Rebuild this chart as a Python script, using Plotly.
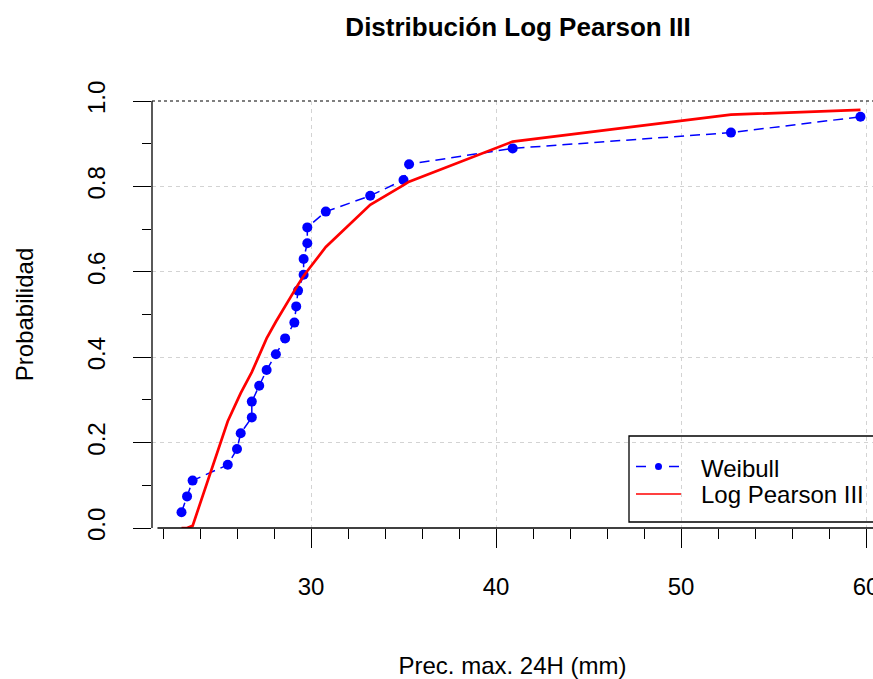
import plotly.graph_objects as go

# Annual maximum 24 h precipitation (mm), sorted ascending
weibull_x = [23.0, 23.3, 23.6, 25.5, 26.0, 26.2, 26.8, 26.8, 27.2, 27.6,
             28.1, 28.6, 29.1, 29.2, 29.3, 29.6, 29.6, 29.8, 29.8, 30.8,
             33.2, 35.0, 35.3, 40.9, 52.7, 59.7]
# Empirical non-exceedance probability (Weibull plotting position)
weibull_p = [0.037, 0.074, 0.111, 0.148, 0.185, 0.222, 0.259, 0.296, 0.333, 0.370,
             0.407, 0.444, 0.481, 0.519, 0.556, 0.593, 0.630, 0.667, 0.704, 0.741,
             0.778, 0.815, 0.852, 0.889, 0.926, 0.963]
# Fitted Log Pearson III CDF evaluated at the same precipitation values
lp3_p = [0.000, 0.000, 0.005, 0.250, 0.297, 0.316, 0.365, 0.365, 0.405, 0.444,
         0.483, 0.520, 0.556, 0.563, 0.570, 0.590, 0.590, 0.602, 0.602, 0.658,
         0.757, 0.803, 0.811, 0.905, 0.968, 0.979]

x_ticks = [30, 40, 50, 60]
y_ticks = [0.0, 0.2, 0.4, 0.6, 0.8, 1.0]
y_tick_text = ["0.0", "0.2", "0.4", "0.6", "0.8", "1.0"]

W, H = 873, 679
L, R, T, B = 152, 0, 101, 151
PW, PH = W - L - R, H - T - B
FONT = "Liberation Sans, Arial, sans-serif"


def px_x(px):
    """Horizontal pixel position -> paper fraction."""
    return (px - L) / PW


def px_y(py):
    """Vertical pixel position (from top) -> paper fraction."""
    return (H - B - py) / PH


fig = go.Figure()

fig.add_trace(go.Scatter(
    x=weibull_x, y=weibull_p, mode="lines+markers", name="Weibull",
    line=dict(color="#0000FF", width=1.5, dash="10px,6px"),
    marker=dict(color="#0000FF", size=10),
))
fig.add_trace(go.Scatter(
    x=weibull_x, y=lp3_p, mode="lines", name="Log Pearson III",
    line=dict(color="#FF0000", width=2.7),
))

axis_common = dict(
    ticks="outside", tickcolor="black", tickwidth=1.3,
    showgrid=True, gridcolor="#D3D3D3", gridwidth=1, griddash="4px,4px",
    showline=False, zeroline=False, ticklabeloverflow="allow",
    automargin=False,
    tickfont=dict(family=FONT, size=24, color="black"),
)

shapes = [
    # y axis line (only across the tick range)
    dict(type="line", xref="paper", yref="y", x0=0, x1=0, y0=0, y1=1,
         line=dict(color="black", width=1.3)),
    # x axis line
    dict(type="line", xref="x", yref="paper", x0=21.7, x1=61, y0=0, y1=0,
         line=dict(color="black", width=1.3)),
    # reference line at probability 1
    dict(type="line", xref="paper", yref="paper", x0=0, x1=1.05, y0=1, y1=1,
         line=dict(color="black", width=1.2, dash="dot")),
    # legend frame
    dict(type="rect", xref="paper", yref="paper",
         x0=px_x(629), x1=px_x(885), y0=px_y(522), y1=px_y(436),
         line=dict(color="black", width=1.3), fillcolor="rgba(0,0,0,0)"),
    # legend key: Weibull (dashed line with dot)
    dict(type="line", xref="paper", yref="paper",
         x0=px_x(636), x1=px_x(646), y0=px_y(466.5), y1=px_y(466.5),
         line=dict(color="#0000FF", width=1.5)),
    dict(type="line", xref="paper", yref="paper",
         x0=px_x(669), x1=px_x(679), y0=px_y(466.5), y1=px_y(466.5),
         line=dict(color="#0000FF", width=1.5)),
    dict(type="circle", xref="paper", yref="paper",
         x0=px_x(655), x1=px_x(662), y0=px_y(470), y1=px_y(463),
         line=dict(color="#0000FF", width=0), fillcolor="#0000FF"),
    # legend key: Log Pearson III
    dict(type="line", xref="paper", yref="paper",
         x0=px_x(636), x1=px_x(681), y0=px_y(494), y1=px_y(494),
         line=dict(color="#FF0000", width=1.5)),
]

annotations = [
    dict(text="Weibull", xref="paper", yref="paper", x=px_x(699), y=px_y(468),
         xanchor="left", yanchor="middle", showarrow=False,
         font=dict(family=FONT, size=24, color="black")),
    dict(text="Log Pearson III", xref="paper", yref="paper", x=px_x(699), y=px_y(494),
         xanchor="left", yanchor="middle", showarrow=False,
         font=dict(family=FONT, size=24, color="black")),
]

fig.update_layout(
    width=W, height=H,
    margin=dict(l=L, r=R, t=T, b=B, pad=0, autoexpand=False),
    paper_bgcolor="white", plot_bgcolor="white",
    showlegend=False,
    font=dict(family=FONT, size=24, color="black"),
    title=dict(text="<b>Distribución Log Pearson III</b>",
               xref="container", yref="container",
               x=518 / W, y=1 - 27 / H, xanchor="center", yanchor="middle",
               font=dict(family=FONT, size=26, color="black")),
    xaxis=dict(
        range=[21.405, 60.378], tickvals=x_ticks, ticklen=19,
        minor=dict(dtick=2, tick0=22, ticklen=9.5, ticks="outside",
                   tickcolor="black", tickwidth=1.3, showgrid=False),
        title=dict(text="Prec. max. 24H (mm)", standoff=63,
                   font=dict(family=FONT, size=24, color="black")),
        ticklabelstandoff=18,
        **axis_common,
    ),
    yaxis=dict(
        range=[0, 1], tickvals=y_ticks, ticktext=y_tick_text, tickangle=-90,
        ticklen=18,
        minor=dict(dtick=0.1, tick0=0, ticklen=9.5, ticks="outside",
                   tickcolor="black", tickwidth=1.3, showgrid=False),
        title=dict(text="Probabilidad", standoff=43,
                   font=dict(family=FONT, size=24, color="black")),
        ticklabelstandoff=18,
        **axis_common,
    ),
    shapes=shapes,
    annotations=annotations,
)

fig.write_html("out.html")
